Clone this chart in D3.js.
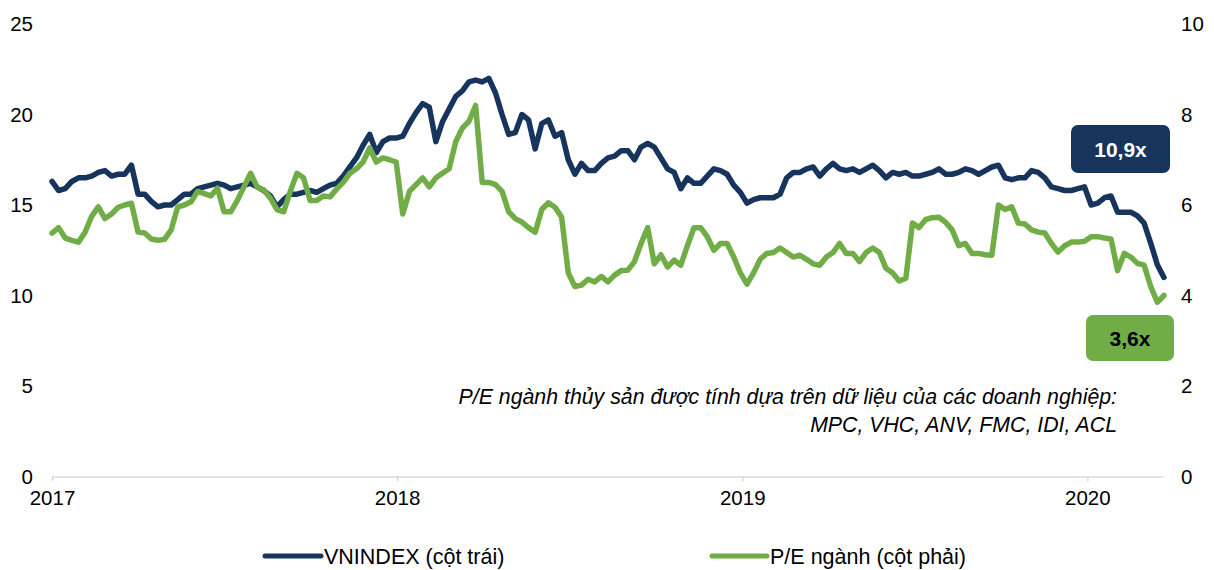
<!DOCTYPE html>
<html>
<head>
<meta charset="utf-8">
<script src="https://cdn.jsdelivr.net/npm/d3@7"></script>
<style>
  html, body { margin: 0; padding: 0; background: #fff; }
  svg { display: block; font-family: "Liberation Sans", Arial, sans-serif; }
</style>
</head>
<body>
<svg id="chart" width="1214" height="570"></svg>
<script>
// ---- DATA (weekly observations starting 2017-01-01) ----
const seriesStart = "2017-01-01";
const seriesEnd = "2020-03-21";
const vnindexPE = [
  16.3, 15.8, 15.9, 16.3, 16.5, 16.5, 16.6, 16.8, 16.9, 16.6,
  16.7, 16.7, 17.2, 15.6, 15.6, 15.2, 14.9, 15.0, 15.0, 15.3,
  15.6, 15.6, 15.9, 16.0, 16.1, 16.2, 16.1, 15.9, 16.0, 16.1,
  16.2, 16.0, 15.8, 15.5, 14.9, 15.3, 15.6, 15.6, 15.7, 15.8,
  15.7, 15.9, 16.1, 16.2, 16.6, 17.1, 17.6, 18.3, 18.9, 17.9,
  18.5, 18.7, 18.7, 18.8, 19.5, 20.1, 20.6, 20.4, 18.5, 19.6,
  20.3, 21.0, 21.3, 21.8, 21.9, 21.8, 22.0, 21.2, 20.0, 18.9,
  19.0, 20.0, 19.7, 18.1, 19.5, 19.7, 18.8, 19.0, 17.5, 16.7,
  17.3, 16.9, 16.9, 17.3, 17.6, 17.7, 18.0, 18.0, 17.5, 18.2,
  18.4, 18.2, 17.6, 17.0, 16.8, 15.9, 16.5, 16.2, 16.2, 16.6,
  17.0, 16.9, 16.7, 16.1, 15.7, 15.1, 15.3, 15.4, 15.4, 15.4,
  15.6, 16.5, 16.8, 16.8, 17.0, 17.1, 16.6, 17.0, 17.3, 17.0,
  16.9, 17.0, 16.8, 17.0, 17.2, 16.9, 16.5, 16.8, 16.7, 16.8,
  16.6, 16.6, 16.7, 16.8, 17.0, 16.7, 16.7, 16.8, 17.0, 16.9,
  16.7, 16.9, 17.1, 17.2, 16.5, 16.4, 16.5, 16.5, 16.9, 16.8,
  16.5, 16.0, 15.9, 15.8, 15.8, 15.9, 16.0, 15.0, 15.1, 15.4,
  15.5, 14.6, 14.6, 14.6, 14.4, 14.0, 12.9, 11.7, 11.0
];
const sectorPE = [
  5.38, 5.50, 5.27, 5.22, 5.18, 5.40, 5.75, 5.96, 5.70, 5.80,
  5.95, 6.00, 6.04, 5.40, 5.38, 5.25, 5.22, 5.24, 5.45, 5.96,
  6.00, 6.07, 6.30, 6.25, 6.20, 6.37, 5.85, 5.85, 6.10, 6.40,
  6.70, 6.40, 6.33, 6.15, 5.90, 5.85, 6.30, 6.70, 6.60, 6.10,
  6.10, 6.20, 6.18, 6.35, 6.50, 6.70, 6.80, 6.95, 7.26, 6.95,
  7.04, 7.00, 6.95, 5.80, 6.30, 6.45, 6.60, 6.40, 6.60, 6.70,
  6.80, 7.40, 7.70, 7.85, 8.20, 6.50, 6.50, 6.45, 6.30, 5.85,
  5.70, 5.62, 5.50, 5.40, 5.90, 6.05, 5.95, 5.73, 4.50, 4.20,
  4.23, 4.36, 4.30, 4.42, 4.30, 4.45, 4.55, 4.56, 4.75, 5.15,
  5.50, 4.70, 4.90, 4.63, 4.78, 4.67, 5.10, 5.50, 5.50, 5.30,
  5.00, 5.15, 5.15, 4.85, 4.50, 4.25, 4.50, 4.80, 4.93, 4.95,
  5.05, 4.95, 4.85, 4.89, 4.80, 4.70, 4.67, 4.85, 4.95, 5.15,
  4.93, 4.93, 4.75, 4.95, 5.05, 4.95, 4.60, 4.50, 4.32, 4.38,
  5.60, 5.50, 5.68, 5.72, 5.73, 5.62, 5.45, 5.10, 5.15, 4.93,
  4.93, 4.90, 4.89, 6.00, 5.90, 5.96, 5.60, 5.58, 5.45, 5.40,
  5.38, 5.15, 4.96, 5.10, 5.18, 5.18, 5.20, 5.30, 5.30, 5.27,
  5.25, 4.55, 4.93, 4.85, 4.71, 4.67, 4.20, 3.85, 4.00
];
const yearTicks = ["2017-01-01", "2018-01-01", "2019-01-01", "2020-01-01"];
const leftTicks = [0, 5, 10, 15, 20, 25];
const rightTicks = [0, 2, 4, 6, 8, 10];
const seriesNames = ["VNINDEX (cột trái)", "P/E ngành (cột phải)"];
const endLabels = ["10,9x", "3,6x"];
const noteLines = [
  "P/E ngành thủy sản được tính dựa trên dữ liệu của các doanh nghiệp:",
  "MPC, VHC, ANV, FMC, IDI, ACL"
];

// ---- CHART ----
const navy = "#17345d";
const green = "#70ad47";
const FONT = "Liberation Sans, Arial, sans-serif";
const parse = d3.utcParse("%Y-%m-%d");
const svg = d3.select("#chart");

const x = d3.scaleUtc().domain([parse(seriesStart), parse(seriesEnd)]).range([52, 1163]);
const yL = d3.scaleLinear().domain([0, 25]).range([476.5, 24]);
const yR = d3.scaleLinear().domain([0, 10]).range([476.5, 24]);

const dates = vnindexPE.map((_, i) => d3.utcDay.offset(parse(seriesStart), 7 * i));

// x axis
const xAxis = d3.axisBottom(x)
  .tickValues(yearTicks.map(parse))
  .tickFormat(d3.utcFormat("%Y"))
  .tickSize(5)
  .tickSizeOuter(0)
  .tickPadding(9);
const gx = svg.append("g").attr("transform", "translate(0,476.5)").call(xAxis);
gx.select(".domain").attr("stroke", "#d9d9d9").attr("stroke-width", 1.5);
gx.selectAll(".tick line").attr("stroke", "#d9d9d9").attr("stroke-width", 1.5);
gx.selectAll(".tick text").attr("font-size", 20.5).attr("fill", "#000").attr("font-family", FONT);

// left axis
const gl = svg.append("g").attr("transform", "translate(52,0)")
  .call(d3.axisLeft(yL).tickValues(leftTicks).tickSize(0).tickPadding(19));
gl.select(".domain").remove();
gl.selectAll(".tick text").attr("font-size", 20.5).attr("fill", "#000").attr("font-family", FONT);

// right axis
const gr = svg.append("g").attr("transform", "translate(1163,0)")
  .call(d3.axisRight(yR).tickValues(rightTicks).tickSize(0).tickPadding(18));
gr.select(".domain").remove();
gr.selectAll(".tick text").attr("font-size", 20.5).attr("fill", "#000").attr("font-family", FONT);

// lines
const lineL = d3.line().x((d, i) => x(dates[i])).y(d => yL(d));
const lineR = d3.line().x((d, i) => x(dates[i])).y(d => yR(d));

svg.append("path").datum(vnindexPE).attr("d", lineL)
  .attr("fill", "none").attr("stroke", navy).attr("stroke-width", 5.5)
  .attr("stroke-linejoin", "round").attr("stroke-linecap", "round");
svg.append("path").datum(sectorPE).attr("d", lineR)
  .attr("fill", "none").attr("stroke", green).attr("stroke-width", 5.5)
  .attr("stroke-linejoin", "round").attr("stroke-linecap", "round");

// end-value boxes
const boxes = [
  { x: 1071, y: 125, w: 99, h: 48, fill: navy, color: "#fff", text: endLabels[0] },
  { x: 1086, y: 315, w: 88, h: 46, fill: green, color: "#000", text: endLabels[1] }
];
boxes.forEach(b => {
  svg.append("rect").attr("x", b.x).attr("y", b.y).attr("width", b.w).attr("height", b.h)
    .attr("rx", 7).attr("fill", b.fill);
  svg.append("text").attr("x", b.x + b.w / 2).attr("y", b.y + b.h / 2)
    .attr("dy", "0.36em").attr("text-anchor", "middle")
    .attr("font-size", 21).attr("font-weight", "bold").attr("fill", b.color)
    .text(b.text);
});

// note
noteLines.forEach((t, i) => {
  svg.append("text").attr("x", 1117).attr("y", 397 + i * 28).attr("dy", "0.35em")
    .attr("text-anchor", "end").attr("font-style", "italic").attr("font-size", 21.3)
    .attr("fill", "#000").text(t);
});

// legend
const legend = [
  { x1: 265, x2: 321, color: navy, text: seriesNames[0] },
  { x1: 712, x2: 767, color: green, text: seriesNames[1] }
];
legend.forEach(l => {
  svg.append("line").attr("x1", l.x1).attr("x2", l.x2).attr("y1", 556).attr("y2", 556)
    .attr("stroke", l.color).attr("stroke-width", 5).attr("stroke-linecap", "round");
  svg.append("text").attr("x", l.x2 + 3).attr("y", 556).attr("dy", "0.35em")
    .attr("font-size", 21.5).attr("fill", "#000").text(l.text);
});
</script>
</body>
</html>
